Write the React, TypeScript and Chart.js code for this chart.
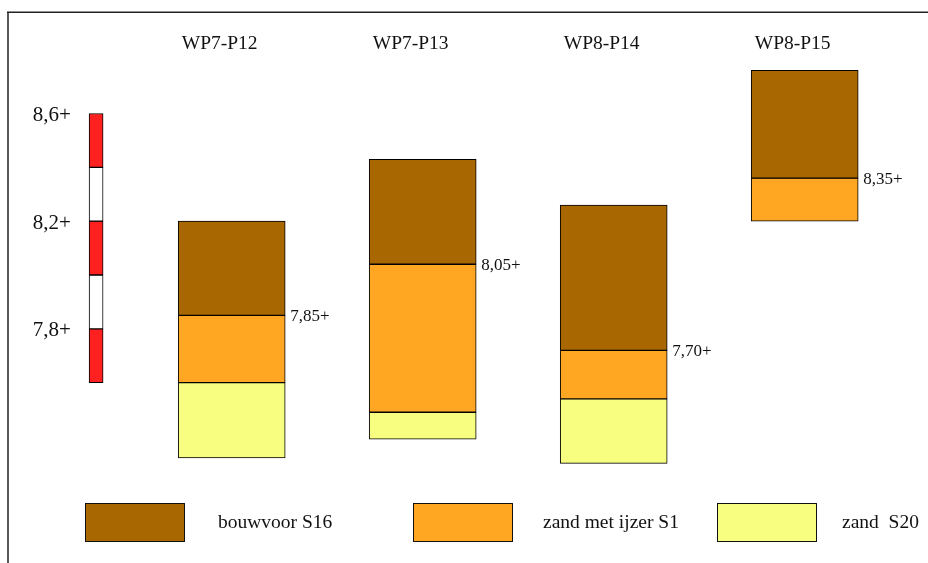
import React, { useEffect, useRef } from "react";
import { Chart, registerables } from "chart.js";

Chart.register(...registerables);

// ---- data ----
const PROFILES = ["WP7-P12", "WP7-P13", "WP8-P14", "WP8-P15"];
const PROFILE_POS = [1, 2, 3, 4];
const S16_TOP = [8.2, 8.43, 8.26, 8.76];
const S16_BASE = [7.85, 8.04, 7.72, 8.36];
const S1_BASE = [7.6, 7.49, 7.54, 8.2];
const S20_BASE: (number | null)[] = [7.32, 7.39, 7.3, null];
const LEVEL_LABELS = ["7,85+", "8,05+", "7,70+", "8,35+"];
const Y_TICKS = [8.6, 8.2, 7.8];
const RULER_LEVELS = [7.6, 7.8, 8.0, 8.2, 8.4, 8.6];
const RULER_POS = 0.29;
const SERIES_NAMES = ["bouwvoor S16", "zand met ijzer S1", "zand  S20"];
const SERIES_COLORS = ["#A86700", "#FFA723", "#F8FF80"];
const RULER_COLORS = ["#FF2020", "#FFFFFF"];

// ---- layout / style ----
const W = 928;
const H = 563;
const FONT = "'Liberation Serif', 'Times New Roman', serif";
const PROFILE_BAR = 107;
const RULER_BAR = 14;
const LEGEND_BOX_X = [85, 413, 717];
const LEGEND_TEXT_X = [218, 543, 842];

function layer(tops: (number | null)[], bases: (number | null)[]) {
  const out: { x: number; y: [number, number] }[] = [];
  PROFILE_POS.forEach((x, i) => {
    const t = tops[i];
    const b = bases[i];
    if (t != null && b != null) out.push({ x, y: [b, t] });
  });
  return out;
}

export default function App() {
  const ref = useRef<HTMLCanvasElement | null>(null);

  useEffect(() => {
    if (!ref.current) return;

    const rulerData: { x: number; y: [number, number] }[] = [];
    const rulerColors: string[] = [];
    for (let i = 0; i < RULER_LEVELS.length - 1; i++) {
      rulerData.push({ x: RULER_POS, y: [RULER_LEVELS[i], RULER_LEVELS[i + 1]] });
      rulerColors.push(RULER_COLORS[i % 2]);
    }

    const frame = {
      id: "frame",
      beforeDraw(chart: any) {
        const ctx = chart.ctx;
        ctx.save();
        ctx.strokeStyle = "#222";
        ctx.lineWidth = 1.5;
        ctx.beginPath();
        ctx.moveTo(7, 12.25);
        ctx.lineTo(W, 12.25);
        ctx.moveTo(8, 12);
        ctx.lineTo(8, H);
        ctx.stroke();
        ctx.restore();
      },
    };

    const levelLabels = {
      id: "levelLabels",
      afterDatasetsDraw(chart: any) {
        const ctx = chart.ctx;
        const xs = chart.scales.x;
        const ys = chart.scales.y;
        ctx.save();
        ctx.font = `17px ${FONT}`;
        ctx.fillStyle = "#111";
        ctx.textAlign = "left";
        ctx.textBaseline = "middle";
        PROFILE_POS.forEach((p, i) => {
          const x = xs.getPixelForValue(p) + PROFILE_BAR / 2 + 5;
          const y = ys.getPixelForValue(S16_BASE[i]) + 1;
          ctx.fillText(LEVEL_LABELS[i], x, y);
        });
        ctx.restore();
      },
    };

    const layers = [
      layer(S16_TOP, S16_BASE),
      layer(S16_BASE, S1_BASE),
      layer(S1_BASE, S20_BASE),
    ];

    const chart = new Chart(ref.current, {
      type: "bar",
      data: {
        datasets: [
          {
            label: "peilschaal",
            data: rulerData as any,
            backgroundColor: rulerColors,
            borderColor: "#000",
            borderWidth: 1,
            borderSkipped: false,
            barThickness: RULER_BAR,
            grouped: false,
          } as any,
          ...layers.map((d, k) => ({
            label: SERIES_NAMES[k],
            data: d as any,
            backgroundColor: SERIES_COLORS[k],
            borderColor: "#000",
            borderWidth: 1,
            borderSkipped: false,
            barThickness: PROFILE_BAR,
            grouped: false,
          })),
        ],
      },
      options: {
        responsive: false,
        animation: false,
        devicePixelRatio: 1,
        layout: { padding: { left: 28.9, right: 8.7, top: 24.3, bottom: 59.2 } },
        plugins: {
          legend: { display: false },
          tooltip: { enabled: false },
        },
        scales: {
          x: {
            type: "linear",
            position: "top",
            offset: false,
            min: 0.2,
            max: 4.6,
            grid: { display: false, drawTicks: false, offset: false },
            border: { display: false },
            afterBuildTicks: (s: any) => {
              s.ticks = PROFILE_POS.map((v) => ({ value: v }));
            },
            afterFit: (s: any) => {
              s.height = 30;
            },
            ticks: {
              autoSkip: false,
              maxRotation: 0,
              padding: -1.5,
              labelOffset: -12,
              color: "#111",
              font: { family: FONT, size: 19.5 },
              callback: (v: any) => {
                const i = PROFILE_POS.indexOf(Number(v));
                return i >= 0 ? PROFILES[i] : "";
              },
            },
          },
          y: {
            type: "linear",
            min: 7.15,
            max: 8.82,
            grid: { display: false, drawTicks: false },
            border: { display: false },
            afterBuildTicks: (s: any) => {
              s.ticks = Y_TICKS.map((v) => ({ value: v }));
            },
            afterFit: (s: any) => {
              s.width = 50;
            },
            ticks: {
              padding: 8,
              labelOffset: 2,
              color: "#111",
              font: { family: FONT, size: 21 },
              callback: (v: any) => Number(v).toFixed(1).replace(".", ",") + "+",
            },
          },
        },
      },
      plugins: [frame, levelLabels],
    });

    return () => chart.destroy();
  }, []);

  return (
    <div style={{ position: "fixed", left: 0, top: 0, width: W, height: H, background: "#fff" }}>
      <canvas ref={ref} width={W} height={H} style={{ position: "absolute", left: 0, top: 0, width: W, height: H }} />
      {SERIES_NAMES.map((name, k) => (
        <React.Fragment key={name}>
          <div
            style={{
              position: "absolute",
              left: LEGEND_BOX_X[k],
              top: 503,
              width: 100,
              height: 39,
              boxSizing: "border-box",
              border: "1px solid #111",
              background: SERIES_COLORS[k],
            }}
          />
          <div
            style={{
              position: "absolute",
              left: LEGEND_TEXT_X[k],
              top: 510,
              height: 24,
              lineHeight: "24px",
              fontFamily: FONT,
              fontSize: 19.5,
              color: "#111",
              whiteSpace: "pre",
            }}
          >
            {name}
          </div>
        </React.Fragment>
      ))}
    </div>
  );
}
